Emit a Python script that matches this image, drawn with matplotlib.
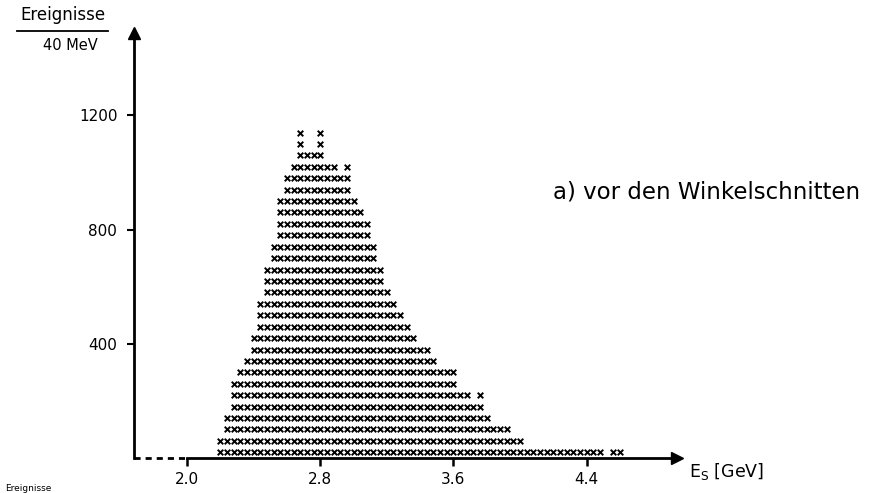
"""Energy spectrum E_S drawn as stacked x marks (40 events per mark)"""

import matplotlib
matplotlib.use("Agg")
import matplotlib.pyplot as plt
from matplotlib.lines import Line2D

# bin centres in GeV (40 MeV bins)
energy = [
    2.20, 2.24, 2.28, 2.32, 2.36, 2.40, 2.44, 2.48, 2.52, 2.56,
    2.60, 2.64, 2.68, 2.72, 2.76, 2.80, 2.84, 2.88, 2.92, 2.96,
    3.00, 3.04, 3.08, 3.12, 3.16, 3.20, 3.24, 3.28, 3.32, 3.36,
    3.40, 3.44, 3.48, 3.52, 3.56, 3.60, 3.64, 3.68, 3.72, 3.76,
    3.80, 3.84, 3.88, 3.92, 3.96, 4.00, 4.04, 4.08, 4.12, 4.16,
    4.20, 4.24, 4.28, 4.32, 4.36, 4.40, 4.44, 4.48, 4.52, 4.56,
    4.60,
]
# events per bin
events = [
    80, 160, 280, 320, 360, 440, 560, 680, 760, 920,
    1000, 1040, 1160, 1080, 1080, 1160, 1040, 1040, 1000, 1040,
    920, 880, 840, 760, 680, 600, 560, 520, 480, 440,
    400, 400, 360, 320, 320, 320, 240, 240, 200, 240,
    160, 120, 120, 120, 80, 80, 40, 40, 40, 40,
    40, 40, 40, 40, 40, 40, 40, 40, 0, 40,
    40,
]
per_mark = 40

x_ticks = [2.0, 2.8, 3.6, 4.4]
x_ticklabels = ["2.0", "2.8", "3.6", "4.4"]
y_ticks = [400, 800, 1200]

W, H = 884, 493


def fx(px):
    return px / W


def fy(py):
    return 1 - py / H


fig = plt.figure(figsize=(W / 100, H / 100), dpi=100)
ax = fig.add_axes([fx(134), fy(458), (677 - 134) / W, (458 - 33) / H])
ax.set_xlim(1.6817, 4.9429)
ax.set_ylim(0, 1488.6)

# one x per 40 events, stacked in each bin
xs, ys = [], []
for e, n in zip(energy, events):
    for j in range(n // per_mark):
        xs.append(e)
        ys.append(per_mark * j + per_mark / 2)
ax.scatter(xs, ys, marker="x", s=16, linewidths=1.4, c="k")

for side in ("top", "right"):
    ax.spines[side].set_visible(False)
for side in ("left", "bottom"):
    ax.spines[side].set_linewidth(2)
ax.spines["bottom"].set_bounds(2.0, 4.9429)

# dashed piece of the abscissa below 2 GeV, arrow heads
ax.plot([1.6817, 1.99], [0, 0], color="k", lw=2, ls=(0, (2.2, 1.8)),
        clip_on=False, solid_capstyle="butt")
ax.plot([1.6817], [1488.6], marker="^", ms=8, color="k", clip_on=False)
ax.plot([4.9429], [0], marker=">", ms=8, color="k", clip_on=False)

ax.set_xticks(x_ticks)
ax.set_xticklabels(x_ticklabels)
ax.set_yticks(y_ticks)
ax.tick_params(axis="x", direction="out", length=6, width=1.8, pad=4,
               labelsize=11)
ax.tick_params(axis="y", direction="out", length=5, width=1.5, pad=7,
               labelsize=11)

fig.text(fx(63), fy(15), "Ereignisse", ha="center", va="center", fontsize=12)
fig.add_artist(Line2D([fx(17), fx(108)], [fy(31), fy(31)], lw=1.3,
                      color="k"))
fig.text(fx(70), fy(45), "40 MeV", ha="center", va="center", fontsize=10.5)
fig.text(fx(553), fy(192), "a) vor den Winkelschnitten", ha="left",
         va="center", fontsize=16.5)
fig.text(fx(689), fy(472), r"E$_{\rm S}$ [GeV]", ha="left", va="center",
         fontsize=12.5)
# start of the next caption at the page edge
fig.text(fx(5), fy(484), "Ereignisse", ha="left", va="top", fontsize=6.5)

fig.savefig("out.png", dpi=100)
plt.close(fig)
